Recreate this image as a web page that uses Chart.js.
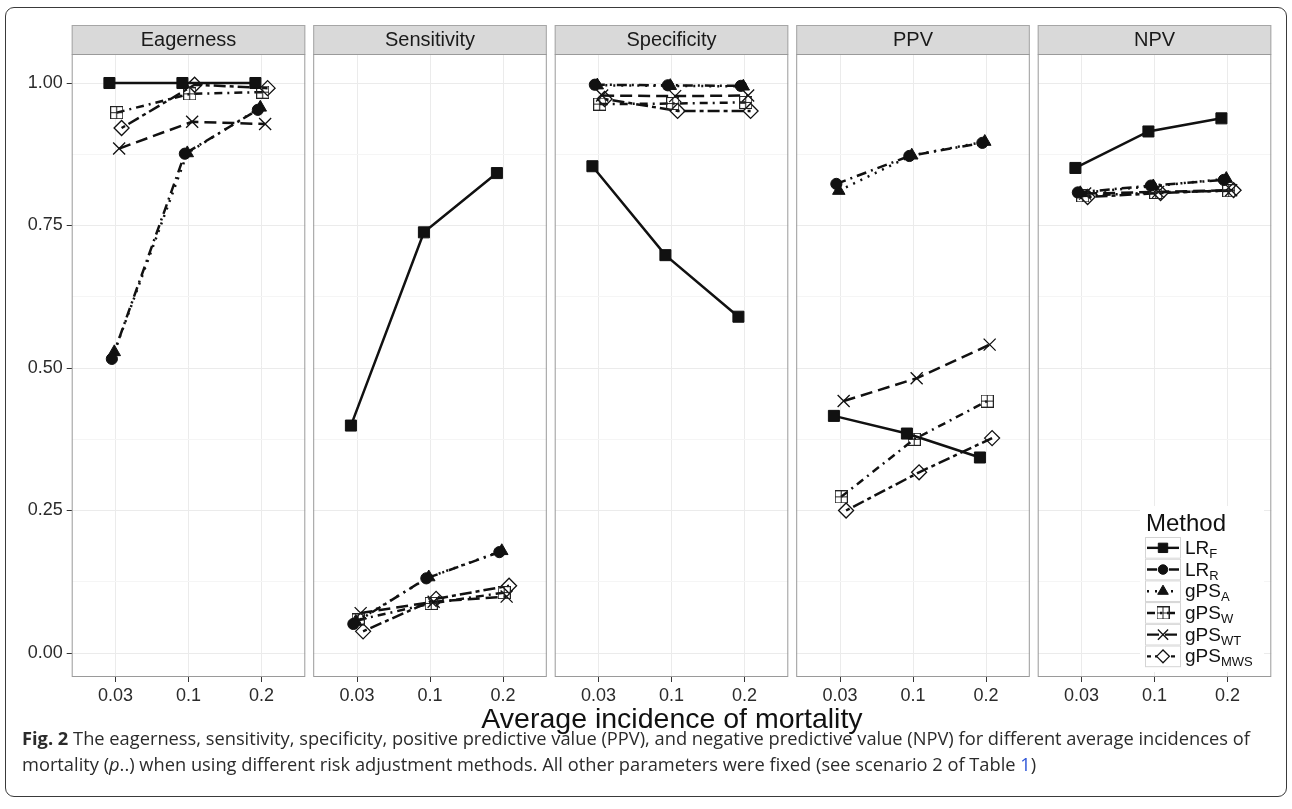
<!DOCTYPE html>
<html>
<head>
<meta charset="utf-8">
<script src="https://cdn.jsdelivr.net/npm/chart.js@4.4.1/dist/chart.umd.min.js"></script>
<style>
  body { margin: 0; background: #fff; width: 1292px; height: 809px; position: relative; overflow: hidden;
         font-family: "Liberation Sans", Arial, sans-serif; }
  #frame { position: absolute; left: 5px; top: 7px; width: 1282px; height: 790px; border: 1px solid #3a3a3a;
           border-radius: 9px; box-sizing: border-box; }
  canvas.facet { position: absolute; left: 0; top: 0; }
  #xtitle { position: absolute; left: 72px; width: 1200px; top: 701px; text-align: center; font-size: 28.5px;
            line-height: 34px; color: #111; }
  #caption { position: absolute; left: 22px; top: 725px; font-family: "Open Sans", sans-serif; font-size: 15px;
             line-height: 26px; color: #2b2b2b; white-space: nowrap; }
  #caption .ref { color: #2d55d8; }
</style>
</head>
<body>
<div id="frame"></div>
<canvas class="facet" id="f0" width="1292" height="809"></canvas>
<canvas class="facet" id="f1" width="1292" height="809"></canvas>
<canvas class="facet" id="f2" width="1292" height="809"></canvas>
<canvas class="facet" id="f3" width="1292" height="809"></canvas>
<canvas class="facet" id="f4" width="1292" height="809"></canvas>
<div id="xtitle">Average incidence of mortality</div>
<div id="caption"><span id="line1"><b>Fig. 2</b> The eagerness, sensitivity, specificity, positive predictive value (PPV), and negative predictive value (NPV) for different average incidences of</span><br>mortality (<i>p</i>..) when using different risk adjustment methods. All other parameters were fixed (see scenario 2 of Table <span class="ref">1</span>)</div>

<script>
// --- data ---
const categories = ['0.03', '0.1', '0.2'];
const measures = ['Eagerness', 'Sensitivity', 'Specificity', 'PPV', 'NPV'];
const methodBase = ['LR', 'LR', 'gPS', 'gPS', 'gPS', 'gPS'];
const methodSub = ['F', 'R', 'A', 'W', 'WT', 'MWS'];
const yTicks = [0, 0.25, 0.5, 0.75, 1];
const yTickLabels = ['0.00', '0.25', '0.50', '0.75', '1.00'];

// one row per method (LR_F, LR_R, gPS_A, gPS_W, gPS_WT, gPS_MWS), one column per incidence
const eagerness = [
  [1.000, 1.000, 1.000],
  [0.516, 0.876, 0.953],
  [0.528, 0.877, 0.957],
  [0.948, 0.981, 0.984],
  [0.885, 0.932, 0.928],
  [0.921, 0.997, 0.991]
];
const sensitivity = [
  [0.399, 0.738, 0.842],
  [0.051, 0.131, 0.177],
  [0.055, 0.133, 0.179],
  [0.058, 0.087, 0.106],
  [0.070, 0.090, 0.099],
  [0.038, 0.095, 0.118]
];
const specificity = [
  [0.854, 0.698, 0.590],
  [0.997, 0.996, 0.995],
  [0.996, 0.995, 0.994],
  [0.963, 0.964, 0.966],
  [0.978, 0.977, 0.978],
  [0.972, 0.951, 0.951]
];
const ppv = [
  [0.416, 0.385, 0.343],
  [0.823, 0.872, 0.895],
  [0.811, 0.873, 0.897],
  [0.274, 0.375, 0.442],
  [0.442, 0.482, 0.541],
  [0.250, 0.317, 0.377]
];
const npv = [
  [0.851, 0.915, 0.938],
  [0.808, 0.820, 0.830],
  [0.807, 0.819, 0.832],
  [0.802, 0.808, 0.811],
  [0.806, 0.809, 0.812],
  [0.800, 0.807, 0.812]
];
const facetValues = [eagerness, sensitivity, specificity, ppv, npv];

// --- layout ---
const W = 1292, H = 809;
const PANEL_LEFT0 = 71.7, PANEL_STEP = 241.5, PANEL_W = 233.6;
const PLOT_TOP = 54, PLOT_BOTTOM = 677, STRIP_TOP = 25;
const Y_MIN = -0.0421, Y_MAX = 1.0509;
const DODGE = 0.2;
const INK = '#111111';
const SANS = '"Liberation Sans", Arial, sans-serif';

// stretch the caption's first line to the frame width
(function fitCaption() {
  const cap = document.getElementById('caption');
  const w = document.getElementById('line1').getBoundingClientRect().width;
  cap.style.fontSize = (15 * 1229 / w).toFixed(2) + 'px';
})();

// square-with-plus marker (no built-in style for it)
function plusSquare() {
  const c = document.createElement('canvas');
  c.width = 13; c.height = 13;
  const g = c.getContext('2d');
  g.strokeStyle = '#222';
  g.lineWidth = 1;
  g.strokeRect(0.5, 0.5, 12, 12);
  g.beginPath();
  g.moveTo(6.5, 0.5); g.lineTo(6.5, 12.5);
  g.moveTo(0.5, 6.5); g.lineTo(12.5, 6.5);
  g.stroke();
  return c;
}

const styles = [
  { dash: [],            point: 'rect',       radius: 7.8, fill: INK,           bw: 1 },
  { dash: [10, 5, 2, 5], point: 'circle',     radius: 5.6, fill: INK,           bw: 1 },
  { dash: [2, 6],        point: 'triangle',   radius: 7.2, fill: INK,           bw: 1 },
  { dash: [8, 5, 2, 5],  point: plusSquare(), radius: 6.5, fill: 'transparent', bw: 1 },
  { dash: [12, 6],       point: 'crossRot',   radius: 8.5, fill: 'transparent', bw: 1.3 },
  { dash: [4, 4, 12, 4], point: 'rectRot',    radius: 7.5, fill: 'transparent', bw: 1.3 }
];

// strip header above each panel plus the grey panel frame
const facetFrame = {
  id: 'facetFrame',
  beforeDraw(chart, args, opts) {
    const { ctx, chartArea: a } = chart;
    ctx.save();
    ctx.fillStyle = '#d9d9d9';
    ctx.fillRect(a.left, STRIP_TOP, a.right - a.left, a.top - STRIP_TOP);
    ctx.strokeStyle = '#a6a6a6';
    ctx.lineWidth = 1;
    ctx.strokeRect(a.left + 0.5, STRIP_TOP + 0.5, a.right - a.left - 1, a.top - STRIP_TOP);
    ctx.fillStyle = '#1a1a1a';
    ctx.font = '20px ' + SANS;
    ctx.textAlign = 'center';
    ctx.textBaseline = 'middle';
    ctx.fillText(opts.title, (a.left + a.right) / 2, (STRIP_TOP + a.top) / 2 + 1);
    ctx.restore();
  },
  afterDraw(chart) {
    const { ctx, chartArea: a } = chart;
    ctx.save();
    ctx.strokeStyle = '#9a9a9a';
    ctx.lineWidth = 1;
    ctx.strokeRect(a.left + 0.5, a.top + 0.5, a.right - a.left - 1, a.bottom - a.top - 1);
    ctx.restore();
  }
};

// "Method" key drawn inside the last panel
const methodKey = {
  id: 'methodKey',
  afterDraw(chart) {
    const ctx = chart.ctx;
    const x0 = 1145, y0 = 537, rowH = 21.7, boxW = 36;
    ctx.save();
    ctx.fillStyle = '#fff';
    ctx.fillRect(1140, 506, 124, 166);
    ctx.fillStyle = INK;
    ctx.font = '24px ' + SANS;
    ctx.textBaseline = 'alphabetic';
    ctx.fillText('Method', 1146, 531);
    styles.forEach((s, i) => {
      const top = y0 + i * rowH, cy = top + rowH / 2;
      ctx.fillStyle = '#fff';
      ctx.fillRect(x0, top, boxW, rowH);
      ctx.strokeStyle = '#d4d4d4';
      ctx.lineWidth = 1;
      ctx.setLineDash([]);
      ctx.strokeRect(x0 + 0.5, top + 0.5, boxW - 1, rowH - 1);
      ctx.strokeStyle = INK;
      ctx.lineWidth = 2.4;
      ctx.setLineDash(s.dash);
      ctx.beginPath();
      ctx.moveTo(x0 + 2, cy);
      ctx.lineTo(x0 + boxW - 2, cy);
      ctx.stroke();
      ctx.setLineDash([]);
      ctx.fillStyle = s.fill === 'transparent' ? '#fff' : s.fill;
      ctx.lineWidth = s.bw;
      Chart.helpers.drawPoint(ctx, { pointStyle: s.point, radius: s.radius * 0.85, rotation: 0, borderWidth: s.bw },
        x0 + boxW / 2, cy);
      ctx.fillStyle = INK;
      ctx.font = '19px ' + SANS;
      ctx.fillText(methodBase[i], 1185, cy + 6);
      const bw = ctx.measureText(methodBase[i]).width;
      ctx.font = '13px ' + SANS;
      ctx.fillText(methodSub[i], 1185 + bw, cy + 10);
    });
    ctx.restore();
  }
};

function isMajor(v) {
  return yTicks.some(t => Math.abs(t - v) < 1e-6);
}

measures.forEach((name, p) => {
  const left = PANEL_LEFT0 + p * PANEL_STEP;
  const first = p === 0;
  const rows = facetValues[p];

  const datasets = rows.map((vals, m) => {
    const s = styles[m];
    const shift = (m - 2.5) * DODGE / 6;
    return {
      label: methodBase[m] + methodSub[m],
      data: vals.map((v, c) => ({ x: c + 1 + shift, y: v })),
      borderColor: INK,
      borderWidth: 2.5,
      borderDash: s.dash,
      pointStyle: s.point,
      pointRadius: s.radius,
      pointBackgroundColor: s.fill,
      pointBorderColor: INK,
      pointBorderWidth: s.bw,
      tension: 0,
      fill: false
    };
  });

  new Chart(document.getElementById('f' + p), {
    type: 'line',
    data: { datasets },
    options: {
      responsive: false,
      animation: false,
      events: [],
      layout: {
        padding: {
          left: first ? 0 : left,
          right: W - left - PANEL_W,
          top: PLOT_TOP,
          bottom: H - PLOT_BOTTOM - 33
        }
      },
      plugins: {
        legend: { display: false },
        tooltip: { enabled: false },
        facetFrame: { title: name }
      },
      scales: {
        x: {
          type: 'linear',
          min: 0.4,
          max: 3.6,
          afterBuildTicks: s => { s.ticks = categories.map((c, i) => ({ value: i + 1 })); },
          afterFit: s => { s.height = 33; },
          ticks: {
            callback: v => categories[Math.round(v) - 1],
            color: '#2b2b2b',
            font: { size: 18, family: SANS },
            padding: 3,
            maxRotation: 0
          },
          grid: { color: '#ebebeb', lineWidth: 1, drawTicks: true, tickLength: 5, tickColor: '#333' },
          border: { display: false }
        },
        y: {
          type: 'linear',
          min: Y_MIN,
          max: Y_MAX,
          afterBuildTicks: s => {
            s.ticks = [0, 0.125, 0.25, 0.375, 0.5, 0.625, 0.75, 0.875, 1].map(v => ({ value: v }));
          },
          afterFit: s => { s.width = first ? left : 0; },
          ticks: {
            display: first,
            callback: v => isMajor(v) ? yTickLabels[yTicks.findIndex(t => Math.abs(t - v) < 1e-6)] : '',
            color: '#2b2b2b',
            font: { size: 18, family: SANS },
            padding: 4
          },
          grid: {
            color: c => isMajor(c.tick.value) ? '#ebebeb' : '#f5f5f5',
            lineWidth: 1,
            drawTicks: first,
            tickLength: 5,
            tickColor: c => isMajor(c.tick.value) ? '#333' : 'rgba(0,0,0,0)'
          },
          border: { display: false }
        }
      }
    },
    plugins: p === measures.length - 1 ? [facetFrame, methodKey] : [facetFrame]
  });
});
</script>
</body>
</html>
